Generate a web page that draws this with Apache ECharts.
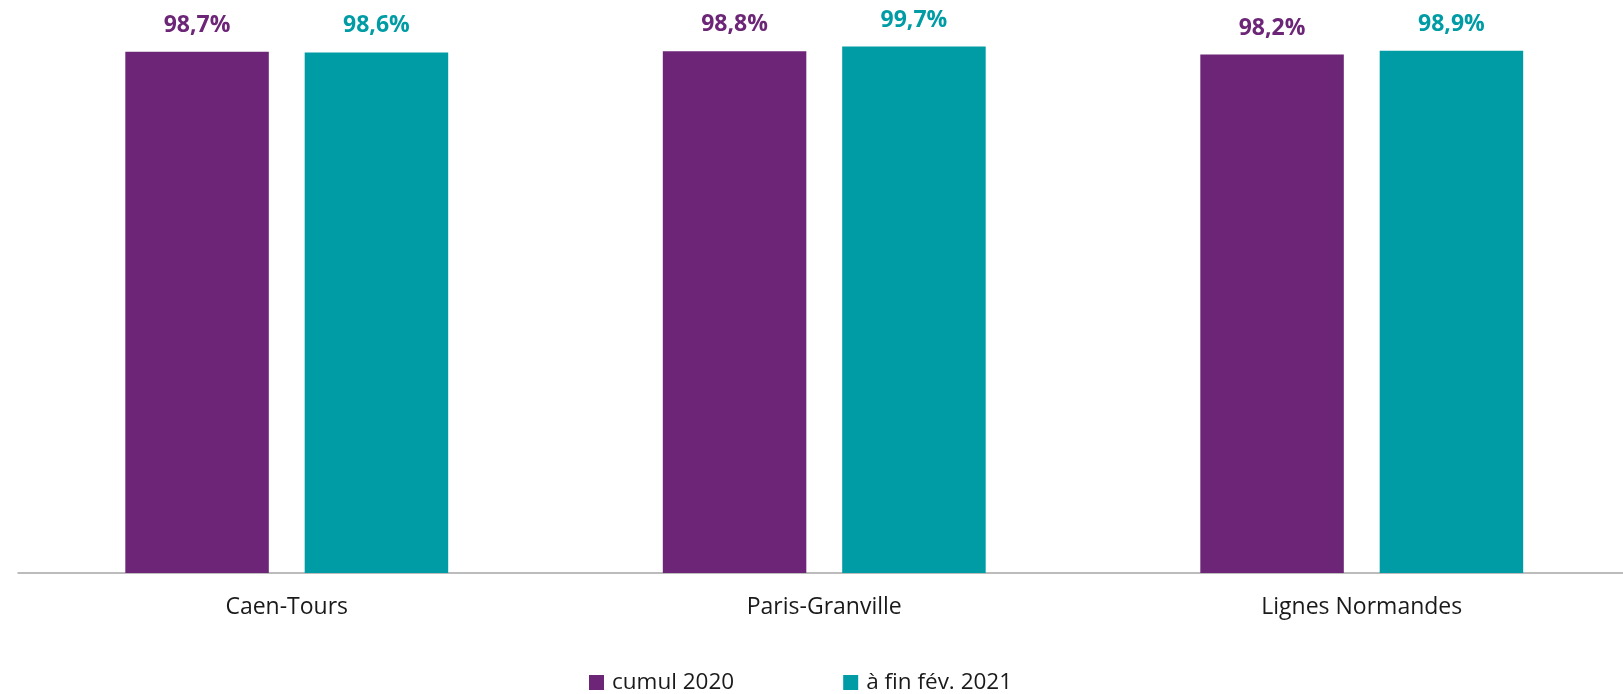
<!DOCTYPE html>
<html>
<head>
<meta charset="utf-8">
<style>
html,body{margin:0;padding:0;background:#fff;}
#chart{width:1623px;height:694px;}
</style>
<script src="https://cdn.jsdelivr.net/npm/echarts@6/dist/echarts.min.js"></script>
</head>
<body>
<div id="chart"></div>
<script>
const categories = ['Caen-Tours', 'Paris-Granville', 'Lignes Normandes'];
const seriesNames = ['cumul 2020', 'à fin fév. 2021'];
const cumul2020 = [98.7, 98.8, 98.2];
const finFev2021 = [98.6, 99.7, 98.9];
const colors = ['#6C2577', '#009CA6'];

const fmt = p => p.value.toFixed(1).replace('.', ',') + '%';
const chart = echarts.init(document.getElementById('chart'), null, {renderer: 'canvas'});
const mkSeries = (name, data, color) => ({
  name: name,
  type: 'bar',
  data: data,
  barWidth: 143.5,
  barGap: '25%',
  itemStyle: {color: color},
  label: {
    show: true,
    position: 'top',
    distance: 15,
    formatter: fmt,
    color: color,
    fontFamily: 'Open Sans',
    fontWeight: 'bold',
    fontSize: 23
  }
});
chart.setOption({
  animation: false,
  grid: {left: 18, width: 1612.5, top: 45, bottom: 121, containLabel: false, outerBoundsMode: 'none'},
  legend: {
    data: seriesNames,
    left: 589,
    top: 671,
    padding: 0,
    itemWidth: 15,
    itemHeight: 15,
    itemGap: 109,
    icon: 'rect',
    textStyle: {fontFamily: 'Open Sans', fontSize: 22.5, color: '#1a1a1a', padding: [0, 0, 0, 3]}
  },
  xAxis: {
    type: 'category',
    data: categories,
    axisLine: {lineStyle: {color: '#a6a6a6', width: 1.5}},
    axisTick: {show: false},
    axisLabel: {fontFamily: 'Open Sans', fontSize: 23, color: '#1a1a1a', margin: 23}
  },
  yAxis: {
    type: 'value',
    min: 0,
    max: 100,
    show: false,
    splitLine: {show: false}
  },
  series: [
    mkSeries(seriesNames[0], cumul2020, colors[0]),
    mkSeries(seriesNames[1], finFev2021, colors[1])
  ]
});
</script>
</body>
</html>
